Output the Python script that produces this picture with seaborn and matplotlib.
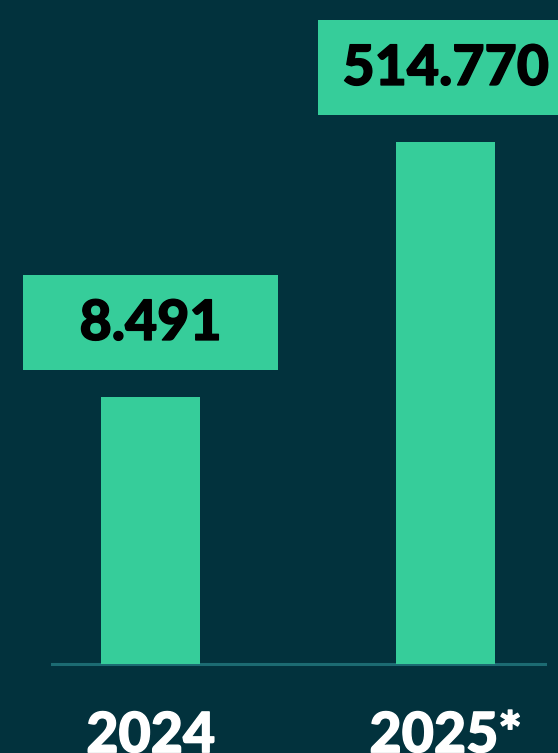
import matplotlib
matplotlib.use("Agg")
import matplotlib.pyplot as plt
import matplotlib.patches as mpatches
import matplotlib.transforms as mtransforms
import matplotlib.patheffects as pe
import seaborn as sns

## Data

years = ["2024", "2025*"]
values = [8491, 514770]
value_labels = ["8.491", "514.770"]

## Style

bg = "#02323d"
green = "#36cd9a"
line_col = "#1c6b72"

sns.set_theme(style="white")
plt.rcParams["font.family"] = ["Lato", "DejaVu Sans"]

fig = plt.figure(figsize=(5.58, 7.53), dpi=100)
fig.patch.set_facecolor(bg)
ax = fig.add_axes([52 / 558, 89 / 753, 493 / 558, 664 / 753])
ax.set_facecolor(bg)

sns.barplot(x=years, y=values, color=green, width=0.336, saturation=1,
            linewidth=0, ax=ax)
for p in ax.patches:
    p.set_zorder(3)

# bars are not to a linear scale in the original, a log axis gets them right
ax.set_yscale("log")
ax.set_ylim(115.4, 10 ** 6.704)
ax.set_xlim(-0.334, 1.337)

for side in ["left", "top", "right"]:
    ax.spines[side].set_visible(False)
ax.spines["bottom"].set_color(line_col)
ax.spines["bottom"].set_linewidth(2.2)

ax.tick_params(axis="y", which="both", left=False, labelleft=False)
ax.tick_params(axis="x", length=0, pad=34, labelsize=40, labelcolor="white")
for lbl in ax.get_xticklabels():
    lbl.set_fontweight("black")
    lbl.set_path_effects([pe.withStroke(linewidth=1.0, foreground="white")])
ax.set_xlabel("")
ax.set_ylabel("")

# value boxes above each bar (pixel sizes)
ident = mtransforms.IdentityTransform()
for i, (v, s) in enumerate(zip(values, value_labels)):
    x, y = ax.transData.transform((i, v))
    fig.add_artist(mpatches.Rectangle((x - 127.5, y + 27), 255, 95,
                                      facecolor=green, edgecolor="none",
                                      transform=ident, clip_on=False))
    fig.text(x, y + 57, s, transform=ident, ha="center", va="baseline",
             fontsize=40, fontweight="black", color="black",
             path_effects=[pe.withStroke(linewidth=1.0, foreground="black")])

fig.savefig("out.png", dpi=100, facecolor=bg)
